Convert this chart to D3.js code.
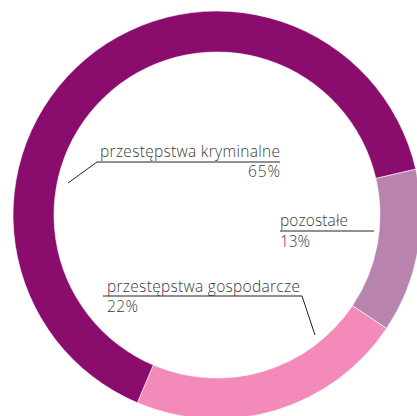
<!DOCTYPE html>
<html><head><meta charset="utf-8">
<script src="https://cdn.jsdelivr.net/npm/d3@7"></script>
<style>body{margin:0;background:#fff}svg{display:block}</style>
</head><body>
<script>
const categories = ["pozostałe", "przestępstwa gospodarcze", "przestępstwa kryminalne"];
const values = [13, 22, 65];
const valueLabels = ["13%", "22%", "65%"];
const colors = ["#B883AD", "#F48AB9", "#8A0D6D"];

const W = 417, H = 416;
const cx = 217, cy = 215, R = 204, r = 163;
const svg = d3.select("body").append("svg").attr("width", W).attr("height", H);
const g = svg.append("g").attr("transform", `translate(${cx},${cy})`);
const startA = 77 * Math.PI / 180;
const pie = d3.pie().sort(null).startAngle(startA).endAngle(startA + 2 * Math.PI);
const arc = d3.arc().innerRadius(r).outerRadius(R);
const arcs = pie(values);
g.selectAll("path").data(arcs).enter().append("path")
  .attr("d", arc).attr("fill", (d, i) => colors[i])
  .attr("stroke", "#fff").attr("stroke-width", 0.6);

const labels = [
  {text: categories[0], val: valueLabels[0], tx: 280, ty: 226, anchor: "start", vx: 280, vy: 246.5,
   tw: 68, vw: 30, line: [[280, 231], [374, 231]]},
  {text: categories[1], val: valueLabels[1], tx: 107, ty: 292, anchor: "start", vx: 107, vy: 312,
   tw: 193, vw: 31, line: [[103, 296], [302, 296], [315, 335]]},
  {text: categories[2], val: valueLabels[2], tx: 280, ty: 156.5, anchor: "end", vx: 280, vy: 177,
   tw: 180, vw: 32, line: [[280, 162], [97, 162], [68, 183]]}
];
const lab = svg.append("g");
function addText(x, y, anchor, s, w) {
  const t = lab.append("text").attr("x", x).attr("y", y).attr("text-anchor", anchor)
    .attr("font-family", "Open Sans").attr("font-weight", 300).attr("font-size", 15.5)
    .attr("fill", "#3a3a3a").text(s);
  t.attr("textLength", w).attr("lengthAdjust", "spacing");
}
labels.forEach(l => {
  addText(l.tx, l.ty, l.anchor, l.text, l.tw);
  addText(l.vx, l.vy, l.anchor, l.val, l.vw);
  lab.append("path").attr("d", d3.line()(l.line)).attr("fill", "none")
    .attr("stroke", "#222").attr("stroke-width", 1);
});
</script>
</body></html>
